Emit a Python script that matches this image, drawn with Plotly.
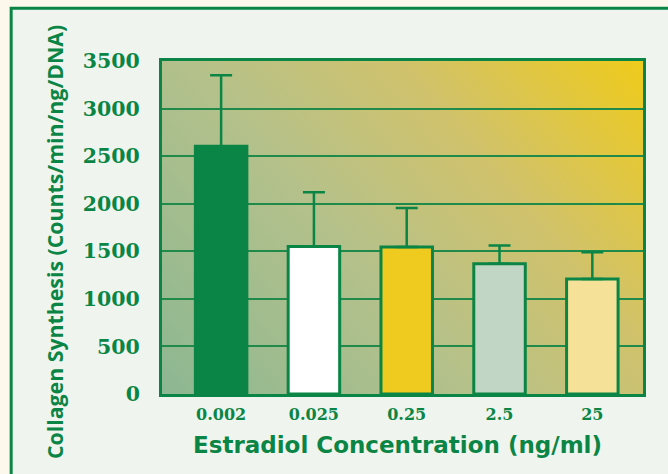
import plotly.graph_objects as go
import base64

categories = ["0.002", "0.025", "0.25", "2.5", "25"]
values = [2605, 1550, 1545, 1370, 1210]
errors_plus = [745, 570, 410, 190, 280]
y_ticks = [0, 500, 1000, 1500, 2000, 2500, 3000, 3500]
bar_colors = ["#0b8545", "#ffffff", "#eecb1e", "#c1d6c5", "#f5e298"]

GREEN = "#0b8545"
W, H = 668, 474
L, R, T, B = 161.5, 25, 60.5, 79.5
pw, ph = W - L - R, H - T - B

svg = (
    '<svg xmlns="http://www.w3.org/2000/svg" width="483" height="336" '
    'viewBox="0 0 483 336" preserveAspectRatio="none">'
    '<defs><linearGradient id="g" gradientUnits="userSpaceOnUse" '
    'x1="0" y1="336" x2="448" y2="-42">'
    '<stop offset="0" stop-color="#8cb792"/>'
    '<stop offset="0.4" stop-color="#b4c18b"/>'
    '<stop offset="0.68" stop-color="#d0c26c"/>'
    '<stop offset="1" stop-color="#efcb1b"/>'
    '</linearGradient></defs>'
    '<rect x="0" y="0" width="483" height="336" fill="url(#g)"/></svg>'
)
svg_uri = "data:image/svg+xml;base64," + base64.b64encode(svg.encode()).decode()

fig = go.Figure()
fig.add_trace(go.Bar(
    x=categories, y=values, width=0.555,
    marker=dict(color=bar_colors, line=dict(color=GREEN, width=3)),
    error_y=dict(type="data", symmetric=False, array=errors_plus,
                 arrayminus=[0] * len(values), color=GREEN, thickness=2.5, width=11),
))

def px(x):
    return (x - L) / pw

def py(y):
    return (H - B - y) / ph

fig.update_layout(
    width=W, height=H,
    margin=dict(l=L, r=R, t=T, b=B),
    paper_bgcolor="#fdf8ec",
    plot_bgcolor="rgba(0,0,0,0)",
    showlegend=False,
    xaxis=dict(
        type="category", range=[-0.637, 4.546],
        showgrid=False, showline=True, linecolor=GREEN, linewidth=3, mirror=True,
        ticks="", ticklabelstandoff=4,
        tickfont=dict(family="DejaVu Serif", size=16, color=GREEN, weight="bold"),
    ),
    yaxis=dict(
        range=[0, 3500], tickvals=y_ticks,
        showgrid=True, gridcolor="#1f8a4a", gridwidth=1.5,
        zeroline=False,
        showline=True, linecolor=GREEN, linewidth=3, mirror=True,
        ticks="", ticklabelstandoff=15,
        tickfont=dict(family="DejaVu Serif", size=20.5, color=GREEN, weight="bold"),
    ),
    images=[dict(source=svg_uri, xref="x domain", yref="y domain", x=0, y=1,
                 sizex=1, sizey=1, xanchor="left", yanchor="top",
                 sizing="stretch", layer="below")],
    shapes=[dict(type="rect", xref="paper", yref="paper",
                 x0=px(10.5), x1=2, y0=-1, y1=py(7.5),
                 fillcolor="#eff5ee", line=dict(color=GREEN, width=3), layer="below")],
    annotations=[
        dict(text="Estradiol Concentration (ng/ml)", xref="paper", yref="paper",
             x=px(397), y=py(446), xanchor="center", yanchor="middle", showarrow=False,
             font=dict(family="DejaVu Sans", size=23, color=GREEN, weight="bold")),
        dict(text="Collagen Synthesis (Counts/min/ng/DNA)", xref="paper", yref="paper",
             x=px(54), y=py(242.5), xanchor="center", yanchor="middle", showarrow=False,
             textangle=-90,
             font=dict(family="Open Sans", size=21.3, color=GREEN, weight="bold")),
    ],
)

fig.write_html("out.html", config={"displayModeBar": False},
               post_script="document.body.style.margin='0';")
